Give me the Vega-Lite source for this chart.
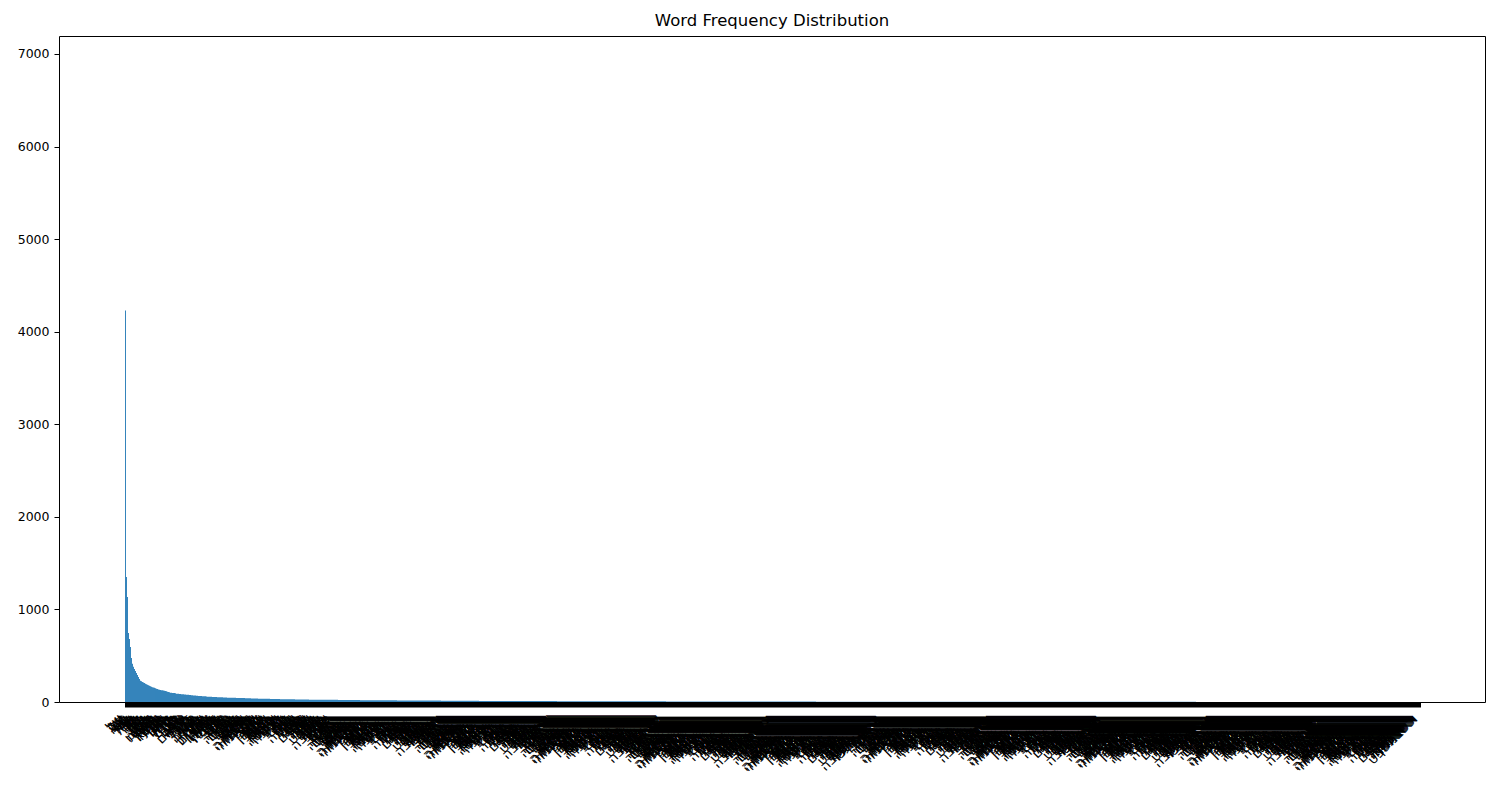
{
  "$schema": "https://vega.github.io/schema/vega-lite/v6.json",
  "autosize": {"type": "none"},
  "width": 1426,
  "height": 666,
  "padding": {"left": 59, "top": 36, "right": 15, "bottom": 98},
  "background": "white",
  "config": {"view": {"stroke": "black", "strokeWidth": 1}, "font": "DejaVu Sans"},
  "title": {"text": "Word Frequency Distribution", "fontSize": 16.5, "fontWeight": "normal", "font": "DejaVu Sans", "color": "black", "offset": 7},
  "data": {"values": [
{"w":"של","c":4230},{"w":"את","c":1350},{"w":"על","c":1134},{"w":"לא","c":745},{"w":"זה","c":680},{"w":"הוא","c":594},{"w":"עם","c":475},{"w":"כי","c":412},{"w":"גם","c":380},{"w":"אני","c":356},
{"w":"היא","c":335},{"w":"יש","c":313},{"w":"מה","c":292},{"w":"אבל","c":270},{"w":"או","c":248},{"w":"כל","c":230},{"w":"אם","c":224},{"w":"היה","c":216},{"w":"רק","c":210},{"w":"אז","c":204},
{"w":"לו","c":197},{"w":"הם","c":192},{"w":"כמו","c":187},{"w":"אין","c":182},{"w":"עוד","c":176},{"w":"היו","c":171},{"w":"בין","c":164},{"w":"אחד","c":160},{"w":"כבר","c":157},{"w":"אנחנו","c":153},
{"w":"שלא","c":149},{"w":"להיות","c":144},{"w":"אותו","c":141},{"w":"אחרי","c":134},{"w":"לפני","c":132},{"w":"מאוד","c":130},{"w":"הזה","c":128},{"w":"יותר","c":126},{"w":"שהוא","c":124},{"w":"עכשיו","c":121},
{"w":"אותה","c":119},{"w":"איך","c":117},{"w":"אחת","c":111},{"w":"שם","c":109},{"w":"פה","c":106},{"w":"כאן","c":101},{"w":"היום","c":99},{"w":"תמיד","c":98},{"w":"אף","c":97},{"w":"אולי","c":96},
{"w":"למה","c":94},{"w":"כך","c":90},{"w":"כן","c":89},{"w":"אתה","c":88},{"w":"אתם","c":87},{"w":"הן","c":86},{"w":"לי","c":85},{"w":"לך","c":84},{"w":"לה","c":83},{"w":"להם","c":82},
{"w":"שלי","c":80},{"w":"שלו","c":79},{"w":"שלה","c":78},{"w":"שלהם","c":77},{"w":"שלנו","c":76},{"w":"אצל","c":75},{"w":"בלי","c":74},{"w":"תחת","c":73},{"w":"מול","c":71},{"w":"דרך","c":70},
{"w":"בגלל","c":69},{"w":"כדי","c":68},{"w":"אשר","c":67},{"w":"זאת","c":66},{"w":"אלה","c":65},{"w":"אלו","c":65},{"w":"הזאת","c":64},{"w":"האלה","c":63},{"w":"מי","c":63},{"w":"מתי","c":62},
{"w":"איפה","c":61},{"w":"כמה","c":60},{"w":"שוב","c":58},{"w":"אחר","c":58},{"w":"אחרת","c":57},{"w":"אחרים","c":57},{"w":"כולם","c":56},{"w":"הכל","c":55},{"w":"שום","c":55},{"w":"דבר","c":54},
{"w":"משהו","c":54},{"w":"מישהו","c":53},{"w":"אפילו","c":52},{"w":"בדיוק","c":52},{"w":"ממש","c":51},{"w":"די","c":51},{"w":"הרבה","c":50},{"w":"קצת","c":50},{"w":"מעט","c":49},
{"w":"בית","c":49},{"w":"עיר","c":48},{"w":"ארץ","c":48},{"w":"ימים","c":47},{"w":"שנה","c":47},{"w":"זמן","c":47},{"w":"איש","c":46},{"w":"אישה","c":46},{"w":"ילד","c":46},{"w":"ילדה","c":45},
{"w":"אב","c":45},{"w":"עבודה","c":45},{"w":"מקום","c":44},{"w":"עולם","c":44},{"w":"חיים","c":44},{"w":"מים","c":43},{"w":"אור","c":43},{"w":"לילה","c":43},{"w":"בוקר","c":42},{"w":"ערב","c":42},
{"w":"שבוע","c":42},{"w":"חודש","c":41},{"w":"ספר","c":41},{"w":"מילה","c":41},{"w":"שפה","c":40},{"w":"מדינה","c":40},{"w":"ממשלה","c":40},{"w":"חברה","c":39},{"w":"משפחה","c":39},{"w":"אהבה","c":39},
{"w":"שלום","c":38},{"w":"מלחמה","c":37},{"w":"צבא","c":37},{"w":"ים","c":37},{"w":"הר","c":36},{"w":"שמש","c":36},{"w":"ירח","c":36},{"w":"כוכב","c":36},{"w":"רחוב","c":35},{"w":"שער","c":35},
{"w":"דלת","c":35},{"w":"חלון","c":35},{"w":"שולחן","c":34},{"w":"כיסא","c":34},{"w":"לחם","c":34},{"w":"אוכל","c":34},{"w":"כסף","c":33},{"w":"שוק","c":33},{"w":"חנות","c":33},{"w":"רכב","c":33},
{"w":"רכבת","c":33},{"w":"מטוס","c":32},{"w":"תלמיד","c":32},{"w":"מורה","c":32},{"w":"כיתה","c":32},{"w":"שאלה","c":32},{"w":"תשובה","c":31},{"w":"סיפור","c":31},{"w":"שיר","c":31},{"w":"סרט","c":31},
{"w":"תמונה","c":31},{"w":"צבע","c":30},{"w":"לב","c":30},{"w":"ראש","c":30},{"w":"יד","c":30},{"w":"רגל","c":30},{"w":"עין","c":29},{"w":"פנים","c":29},{"w":"קול","c":29},{"w":"רוח","c":29},
{"w":"נפש","c":29},{"w":"גוף","c":28},{"w":"דם","c":28},{"w":"אש","c":28},{"w":"אדמה","c":28},{"w":"שדה","c":28},{"w":"עץ","c":27},{"w":"פרח","c":26},{"w":"גן","c":26},{"w":"כלב","c":26},
{"w":"חתול","c":26},{"w":"סוס","c":26},{"w":"ציפור","c":26},{"w":"דג","c":26},{"w":"שמיים","c":26},{"w":"גשם","c":25},{"w":"שלג","c":25},{"w":"חורף","c":25},{"w":"קיץ","c":25},{"w":"חג","c":25},
{"w":"שבת","c":25},{"w":"תורה","c":25},{"w":"מלך","c":25},{"w":"נביא","c":25},{"w":"עבד","c":24},{"w":"חוק","c":24},{"w":"משפט","c":24},{"w":"אמת","c":24},{"w":"כבוד","c":24},{"w":"כוח","c":24},
{"w":"חופש","c":24},{"w":"עתיד","c":24},{"w":"רופא","c":24},{"w":"חלום","c":24},{"w":"רעיון","c":23},{"w":"מחשבה","c":23},{"w":"רגע","c":23},{"w":"שעה","c":23},{"w":"מספר","c":23},{"w":"סוף","c":23},
{"w":"הבית","c":23},{"w":"העיר","c":23},{"w":"הארץ","c":23},{"w":"הימים","c":23},{"w":"השנה","c":22},{"w":"הזמן","c":22},{"w":"האיש","c":22},{"w":"האישה","c":22},{"w":"הילד","c":22},{"w":"הילדה","c":22},
{"w":"האב","c":22},{"w":"העבודה","c":22},{"w":"המקום","c":22},{"w":"העולם","c":22},{"w":"החיים","c":22},{"w":"המים","c":21},{"w":"האור","c":21},{"w":"הלילה","c":21},{"w":"הבוקר","c":21},{"w":"הערב","c":21},
{"w":"השבוע","c":21},{"w":"החודש","c":21},{"w":"הספר","c":21},{"w":"המילה","c":21},{"w":"השפה","c":21},{"w":"המדינה","c":21},{"w":"הממשלה","c":20},{"w":"החברה","c":20},{"w":"המשפחה","c":20},{"w":"האהבה","c":20},
{"w":"השלום","c":20},{"w":"המלחמה","c":20},{"w":"הצבא","c":20},{"w":"הים","c":20},{"w":"ההר","c":20},{"w":"השמש","c":20},{"w":"הירח","c":20},{"w":"הכוכב","c":20},{"w":"הרחוב","c":19},{"w":"השער","c":19},
{"w":"הדלת","c":19},{"w":"החלון","c":19},{"w":"השולחן","c":19},{"w":"הכיסא","c":19},{"w":"הלחם","c":19},{"w":"האוכל","c":19},{"w":"הכסף","c":19},{"w":"השוק","c":19},{"w":"החנות","c":19},{"w":"הרכב","c":19},
{"w":"הרכבת","c":18},{"w":"המטוס","c":18},{"w":"התלמיד","c":18},{"w":"המורה","c":18},{"w":"הכיתה","c":18},{"w":"השאלה","c":18},{"w":"התשובה","c":18},{"w":"הסיפור","c":18},{"w":"השיר","c":18},{"w":"הסרט","c":18},
{"w":"התמונה","c":18},{"w":"הצבע","c":18},{"w":"הלב","c":18},{"w":"הראש","c":17},{"w":"היד","c":17},{"w":"הרגל","c":17},{"w":"העין","c":17},{"w":"הפנים","c":17},{"w":"הקול","c":17},{"w":"הרוח","c":17},
{"w":"הנפש","c":17},{"w":"הגוף","c":17},{"w":"הדם","c":17},{"w":"האש","c":17},{"w":"האדמה","c":17},{"w":"השדה","c":17},{"w":"העץ","c":17},{"w":"הפרח","c":16},{"w":"הגן","c":16},{"w":"הכלב","c":16},
{"w":"החתול","c":16},{"w":"הסוס","c":16},{"w":"הציפור","c":16},{"w":"הדג","c":16},{"w":"השמיים","c":16},{"w":"הגשם","c":16},{"w":"השלג","c":16},{"w":"החורף","c":16},{"w":"הקיץ","c":16},{"w":"החג","c":16},
{"w":"השבת","c":16},{"w":"התורה","c":15},{"w":"המלך","c":15},{"w":"הנביא","c":15},{"w":"העבד","c":15},{"w":"החוק","c":15},{"w":"המשפט","c":15},{"w":"האמת","c":15},{"w":"הכבוד","c":15},{"w":"הכוח","c":15},
{"w":"החופש","c":15},{"w":"העתיד","c":15},{"w":"הרופא","c":15},{"w":"החלום","c":15},{"w":"הרעיון","c":15},{"w":"המחשבה","c":15},{"w":"הרגע","c":15},{"w":"השעה","c":14},{"w":"המספר","c":14},{"w":"הסוף","c":14},
{"w":"והבית","c":14},{"w":"והעיר","c":14},{"w":"והארץ","c":14},{"w":"והימים","c":14},{"w":"והשנה","c":14},{"w":"והזמן","c":14},{"w":"והאיש","c":14},{"w":"והאישה","c":14},{"w":"והילד","c":14},{"w":"והילדה","c":14},
{"w":"והאב","c":14},{"w":"והעבודה","c":14},{"w":"והמקום","c":14},{"w":"והעולם","c":14},{"w":"והחיים","c":14},{"w":"והמים","c":13},{"w":"והאור","c":13},{"w":"והלילה","c":13},{"w":"והבוקר","c":13},{"w":"והערב","c":13},
{"w":"והשבוע","c":13},{"w":"והחודש","c":13},{"w":"והספר","c":13},{"w":"והמילה","c":13},{"w":"והשפה","c":13},{"w":"והמדינה","c":13},{"w":"והממשלה","c":13},{"w":"והחברה","c":13},{"w":"והמשפחה","c":13},{"w":"והאהבה","c":13},
{"w":"והשלום","c":13},{"w":"והמלחמה","c":13},{"w":"והצבא","c":13},{"w":"והים","c":13},{"w":"וההר","c":13},{"w":"והשמש","c":12},{"w":"והירח","c":12},{"w":"והכוכב","c":12},{"w":"והרחוב","c":12},{"w":"והשער","c":12},
{"w":"והדלת","c":12},{"w":"והחלון","c":12},{"w":"והשולחן","c":12},{"w":"והכיסא","c":12},{"w":"והלחם","c":12},{"w":"והאוכל","c":12},{"w":"והכסף","c":12},{"w":"והשוק","c":12},{"w":"והחנות","c":12},{"w":"והרכב","c":12},
{"w":"והרכבת","c":12},{"w":"והמטוס","c":12},{"w":"והתלמיד","c":12},{"w":"והמורה","c":12},{"w":"והכיתה","c":12},{"w":"והשאלה","c":12},{"w":"והתשובה","c":12},{"w":"והסיפור","c":12},{"w":"והשיר","c":11},{"w":"והסרט","c":11},
{"w":"והתמונה","c":11},{"w":"והצבע","c":11},{"w":"והלב","c":11},{"w":"והראש","c":11},{"w":"והיד","c":11},{"w":"והרגל","c":11},{"w":"והעין","c":11},{"w":"והפנים","c":11},{"w":"והקול","c":11},{"w":"והרוח","c":11},
{"w":"והנפש","c":11},{"w":"והגוף","c":11},{"w":"והדם","c":11},{"w":"והאש","c":11},{"w":"והאדמה","c":11},{"w":"והשדה","c":11},{"w":"והעץ","c":11},{"w":"והפרח","c":11},{"w":"והגן","c":11},{"w":"והכלב","c":11},
{"w":"והחתול","c":11},{"w":"והסוס","c":11},{"w":"והציפור","c":11},{"w":"והדג","c":11},{"w":"והשמיים","c":10},{"w":"והגשם","c":10},{"w":"והשלג","c":10},{"w":"והחורף","c":10},{"w":"והקיץ","c":10},{"w":"והחג","c":10},
{"w":"והשבת","c":10},{"w":"והתורה","c":10},{"w":"והמלך","c":10},{"w":"והנביא","c":10},{"w":"והעבד","c":10},{"w":"והחוק","c":10},{"w":"והמשפט","c":10},{"w":"והאמת","c":10},{"w":"והכבוד","c":10},{"w":"והכוח","c":10},
{"w":"והחופש","c":10},{"w":"והעתיד","c":10},{"w":"והרופא","c":10},{"w":"והחלום","c":10},{"w":"והרעיון","c":10},{"w":"והמחשבה","c":10},{"w":"והרגע","c":10},{"w":"והשעה","c":10},{"w":"והמספר","c":10},{"w":"והסוף","c":10},
{"w":"שהבית","c":10},{"w":"שהעיר","c":10},{"w":"שהארץ","c":10},{"w":"שהימים","c":9},{"w":"שהשנה","c":9},{"w":"שהזמן","c":9},{"w":"שהאיש","c":9},{"w":"שהאישה","c":9},{"w":"שהילד","c":9},{"w":"שהילדה","c":9},
{"w":"שהאב","c":9},{"w":"שהעבודה","c":9},{"w":"שהמקום","c":9},{"w":"שהעולם","c":9},{"w":"שהחיים","c":9},{"w":"שהמים","c":9},{"w":"שהאור","c":9},{"w":"שהלילה","c":9},{"w":"שהבוקר","c":9},{"w":"שהערב","c":9},
{"w":"שהשבוע","c":9},{"w":"שהחודש","c":9},{"w":"שהספר","c":9},{"w":"שהמילה","c":9},{"w":"שהשפה","c":9},{"w":"שהמדינה","c":9},{"w":"שהממשלה","c":9},{"w":"שהחברה","c":9},{"w":"שהמשפחה","c":9},{"w":"שהאהבה","c":9},
{"w":"שהשלום","c":9},{"w":"שהמלחמה","c":9},{"w":"שהצבא","c":9},{"w":"שהים","c":9},{"w":"שההר","c":9},{"w":"שהשמש","c":8},{"w":"שהירח","c":8},{"w":"שהכוכב","c":8},{"w":"שהרחוב","c":8},{"w":"שהשער","c":8},
{"w":"שהדלת","c":8},{"w":"שהחלון","c":8},{"w":"שהשולחן","c":8},{"w":"שהכיסא","c":8},{"w":"שהלחם","c":8},{"w":"שהאוכל","c":8},{"w":"שהכסף","c":8},{"w":"שהשוק","c":8},{"w":"שהחנות","c":8},{"w":"שהרכב","c":8},
{"w":"שהרכבת","c":8},{"w":"שהמטוס","c":8},{"w":"שהתלמיד","c":8},{"w":"שהמורה","c":8},{"w":"שהכיתה","c":8},{"w":"שהשאלה","c":8},{"w":"שהתשובה","c":8},{"w":"שהסיפור","c":8},{"w":"שהשיר","c":8},{"w":"שהסרט","c":8},
{"w":"שהתמונה","c":8},{"w":"שהצבע","c":8},{"w":"שהלב","c":8},{"w":"שהראש","c":8},{"w":"שהיד","c":8},{"w":"שהרגל","c":8},{"w":"שהעין","c":8},{"w":"שהפנים","c":8},{"w":"שהקול","c":8},{"w":"שהרוח","c":8},
{"w":"שהנפש","c":8},{"w":"שהגוף","c":7},{"w":"שהדם","c":7},{"w":"שהאש","c":7},{"w":"שהאדמה","c":7},{"w":"שהשדה","c":7},{"w":"שהעץ","c":7},{"w":"שהפרח","c":7},{"w":"שהגן","c":7},{"w":"שהכלב","c":7},
{"w":"שהחתול","c":7},{"w":"שהסוס","c":7},{"w":"שהציפור","c":7},{"w":"שהדג","c":7},{"w":"שהשמיים","c":7},{"w":"שהגשם","c":7},{"w":"שהשלג","c":7},{"w":"שהחורף","c":7},{"w":"שהקיץ","c":7},{"w":"שהחג","c":7},
{"w":"שהשבת","c":7},{"w":"שהתורה","c":7},{"w":"שהמלך","c":7},{"w":"שהנביא","c":7},{"w":"שהעבד","c":7},{"w":"שהחוק","c":7},{"w":"שהמשפט","c":7},{"w":"שהאמת","c":7},{"w":"שהכבוד","c":7},{"w":"שהכוח","c":7},
{"w":"שהחופש","c":7},{"w":"שהעתיד","c":7},{"w":"שהרופא","c":7},{"w":"שהחלום","c":7},{"w":"שהרעיון","c":7},{"w":"שהמחשבה","c":7},{"w":"שהרגע","c":7},{"w":"שהשעה","c":7},{"w":"שהמספר","c":7},{"w":"שהסוף","c":7},
{"w":"כשהבית","c":7},{"w":"כשהעיר","c":7},{"w":"כשהארץ","c":6},{"w":"כשהימים","c":6},{"w":"כשהשנה","c":6},{"w":"כשהזמן","c":6},{"w":"כשהאיש","c":6},{"w":"כשהאישה","c":6},{"w":"כשהילד","c":6},{"w":"כשהילדה","c":6},
{"w":"כשהאב","c":6},{"w":"כשהעבודה","c":6},{"w":"כשהמקום","c":6},{"w":"כשהעולם","c":6},{"w":"כשהחיים","c":6},{"w":"כשהמים","c":6},{"w":"כשהאור","c":6},{"w":"כשהלילה","c":6},{"w":"כשהבוקר","c":6},{"w":"כשהערב","c":6},
{"w":"כשהשבוע","c":6},{"w":"כשהחודש","c":6},{"w":"כשהספר","c":6},{"w":"כשהמילה","c":6},{"w":"כשהשפה","c":6},{"w":"כשהמדינה","c":6},{"w":"כשהממשלה","c":6},{"w":"כשהחברה","c":6},{"w":"כשהמשפחה","c":6},{"w":"כשהאהבה","c":6},
{"w":"כשהשלום","c":6},{"w":"כשהמלחמה","c":6},{"w":"כשהצבא","c":6},{"w":"כשהים","c":6},{"w":"כשההר","c":6},{"w":"כשהשמש","c":6},{"w":"כשהירח","c":6},{"w":"כשהכוכב","c":6},{"w":"כשהרחוב","c":6},{"w":"כשהשער","c":6},
{"w":"כשהדלת","c":6},{"w":"כשהחלון","c":6},{"w":"כשהשולחן","c":6},{"w":"כשהכיסא","c":6},{"w":"כשהלחם","c":6},{"w":"כשהאוכל","c":6},{"w":"כשהכסף","c":6},{"w":"כשהשוק","c":6},{"w":"כשהחנות","c":6},{"w":"כשהרכב","c":6},
{"w":"כשהרכבת","c":6},{"w":"כשהמטוס","c":6},{"w":"כשהתלמיד","c":6},{"w":"כשהמורה","c":6},{"w":"כשהכיתה","c":6},{"w":"כשהשאלה","c":6},{"w":"כשהתשובה","c":6},{"w":"כשהסיפור","c":6},{"w":"כשהשיר","c":6},{"w":"כשהסרט","c":6},
{"w":"כשהתמונה","c":6},{"w":"כשהצבע","c":6},{"w":"כשהלב","c":6},{"w":"כשהראש","c":6},{"w":"כשהיד","c":6},{"w":"כשהרגל","c":6},{"w":"כשהעין","c":6},{"w":"כשהפנים","c":6},{"w":"כשהקול","c":6},{"w":"כשהרוח","c":6},
{"w":"כשהנפש","c":6},{"w":"כשהגוף","c":6},{"w":"כשהדם","c":6},{"w":"כשהאש","c":6},{"w":"כשהאדמה","c":6},{"w":"כשהשדה","c":6},{"w":"כשהעץ","c":6},{"w":"כשהפרח","c":6},{"w":"כשהגן","c":6},{"w":"כשהכלב","c":6},
{"w":"כשהחתול","c":6},{"w":"כשהסוס","c":6},{"w":"כשהציפור","c":5},{"w":"כשהדג","c":5},{"w":"כשהשמיים","c":5},{"w":"כשהגשם","c":5},{"w":"כשהשלג","c":5},{"w":"כשהחורף","c":5},{"w":"כשהקיץ","c":5},{"w":"כשהחג","c":5},
{"w":"כשהשבת","c":5},{"w":"כשהתורה","c":5},{"w":"כשהמלך","c":5},{"w":"כשהנביא","c":5},{"w":"כשהעבד","c":5},{"w":"כשהחוק","c":5},{"w":"כשהמשפט","c":5},{"w":"כשהאמת","c":5},{"w":"כשהכבוד","c":5},{"w":"כשהכוח","c":5},
{"w":"כשהחופש","c":5},{"w":"כשהעתיד","c":5},{"w":"כשהרופא","c":5},{"w":"כשהחלום","c":5},{"w":"כשהרעיון","c":5},{"w":"כשהמחשבה","c":5},{"w":"כשהרגע","c":5},{"w":"כשהשעה","c":5},{"w":"כשהמספר","c":5},{"w":"כשהסוף","c":5},
{"w":"וכשהבית","c":5},{"w":"וכשהעיר","c":5},{"w":"וכשהארץ","c":5},{"w":"וכשהימים","c":5},{"w":"וכשהשנה","c":5},{"w":"וכשהזמן","c":5},{"w":"וכשהאיש","c":5},{"w":"וכשהאישה","c":5},{"w":"וכשהילד","c":5},{"w":"וכשהילדה","c":5},
{"w":"וכשהאב","c":5},{"w":"וכשהעבודה","c":5},{"w":"וכשהמקום","c":5},{"w":"וכשהעולם","c":5},{"w":"וכשהחיים","c":5},{"w":"וכשהמים","c":5},{"w":"וכשהאור","c":5},{"w":"וכשהלילה","c":5},{"w":"וכשהבוקר","c":5},{"w":"וכשהערב","c":5},
{"w":"וכשהשבוע","c":5},{"w":"וכשהחודש","c":5},{"w":"וכשהספר","c":5},{"w":"וכשהמילה","c":5},{"w":"וכשהשפה","c":5},{"w":"וכשהמדינה","c":5},{"w":"וכשהממשלה","c":5},{"w":"וכשהחברה","c":5},{"w":"וכשהמשפחה","c":5},{"w":"וכשהאהבה","c":5},
{"w":"וכשהשלום","c":5},{"w":"וכשהמלחמה","c":5},{"w":"וכשהצבא","c":5},{"w":"וכשהים","c":5},{"w":"וכשההר","c":5},{"w":"וכשהשמש","c":5},{"w":"וכשהירח","c":5},{"w":"וכשהכוכב","c":5},{"w":"וכשהרחוב","c":5},{"w":"וכשהשער","c":5},
{"w":"וכשהדלת","c":5},{"w":"וכשהחלון","c":5},{"w":"וכשהשולחן","c":4},{"w":"וכשהכיסא","c":4},{"w":"וכשהלחם","c":4},{"w":"וכשהאוכל","c":4},{"w":"וכשהכסף","c":4},{"w":"וכשהשוק","c":4},{"w":"וכשהחנות","c":4},{"w":"וכשהרכב","c":4},
{"w":"וכשהרכבת","c":4},{"w":"וכשהמטוס","c":4},{"w":"וכשהתלמיד","c":4},{"w":"וכשהמורה","c":4},{"w":"וכשהכיתה","c":4},{"w":"וכשהשאלה","c":4},{"w":"וכשהתשובה","c":4},{"w":"וכשהסיפור","c":4},{"w":"וכשהשיר","c":4},{"w":"וכשהסרט","c":4},
{"w":"וכשהתמונה","c":4},{"w":"וכשהצבע","c":4},{"w":"וכשהלב","c":4},{"w":"וכשהראש","c":4},{"w":"וכשהיד","c":4},{"w":"וכשהרגל","c":4},{"w":"וכשהעין","c":4},{"w":"וכשהפנים","c":4},{"w":"וכשהקול","c":4},{"w":"וכשהרוח","c":4},
{"w":"וכשהנפש","c":4},{"w":"וכשהגוף","c":4},{"w":"וכשהדם","c":4},{"w":"וכשהאש","c":4},{"w":"וכשהאדמה","c":4},{"w":"וכשהשדה","c":4},{"w":"וכשהעץ","c":4},{"w":"וכשהפרח","c":4},{"w":"וכשהגן","c":4},{"w":"וכשהכלב","c":4},
{"w":"וכשהחתול","c":4},{"w":"וכשהסוס","c":4},{"w":"וכשהציפור","c":4},{"w":"וכשהדג","c":4},{"w":"וכשהשמיים","c":4},{"w":"וכשהגשם","c":4},{"w":"וכשהשלג","c":4},{"w":"וכשהחורף","c":4},{"w":"וכשהקיץ","c":4},{"w":"וכשהחג","c":4},
{"w":"וכשהשבת","c":4},{"w":"וכשהתורה","c":4},{"w":"וכשהמלך","c":4},{"w":"וכשהנביא","c":4},{"w":"וכשהעבד","c":4},{"w":"וכשהחוק","c":4},{"w":"וכשהמשפט","c":4},{"w":"וכשהאמת","c":4},{"w":"וכשהכבוד","c":4},{"w":"וכשהכוח","c":4},
{"w":"וכשהחופש","c":4},{"w":"וכשהעתיד","c":4},{"w":"וכשהרופא","c":4},{"w":"וכשהחלום","c":4},{"w":"וכשהרעיון","c":4},{"w":"וכשהמחשבה","c":4},{"w":"וכשהרגע","c":4},{"w":"וכשהשעה","c":4},{"w":"וכשהמספר","c":4},{"w":"וכשהסוף","c":4},
{"w":"מהבית","c":4},{"w":"מהעיר","c":4},{"w":"מהארץ","c":4},{"w":"מהימים","c":4},{"w":"מהשנה","c":4},{"w":"מהזמן","c":4},{"w":"מהאיש","c":4},{"w":"מהאישה","c":4},{"w":"מהילד","c":4},{"w":"מהילדה","c":4},
{"w":"מהאב","c":4},{"w":"מהעבודה","c":4},{"w":"מהמקום","c":4},{"w":"מהעולם","c":4},{"w":"מהחיים","c":4},{"w":"מהמים","c":4},{"w":"מהאור","c":4},{"w":"מהלילה","c":4},{"w":"מהבוקר","c":4},{"w":"מהערב","c":4},
{"w":"מהשבוע","c":4},{"w":"מהחודש","c":4},{"w":"מהספר","c":3},{"w":"מהמילה","c":3},{"w":"מהשפה","c":3},{"w":"מהמדינה","c":3},{"w":"מהממשלה","c":3},{"w":"מהחברה","c":3},{"w":"מהמשפחה","c":3},{"w":"מהאהבה","c":3},
{"w":"מהשלום","c":3},{"w":"מהמלחמה","c":3},{"w":"מהצבא","c":3},{"w":"מהים","c":3},{"w":"מההר","c":3},{"w":"מהשמש","c":3},{"w":"מהירח","c":3},{"w":"מהכוכב","c":3},{"w":"מהרחוב","c":3},{"w":"מהשער","c":3},
{"w":"מהדלת","c":3},{"w":"מהחלון","c":3},{"w":"מהשולחן","c":3},{"w":"מהכיסא","c":3},{"w":"מהלחם","c":3},{"w":"מהאוכל","c":3},{"w":"מהכסף","c":3},{"w":"מהשוק","c":3},{"w":"מהחנות","c":3},{"w":"מהרכב","c":3},
{"w":"מהרכבת","c":3},{"w":"מהמטוס","c":3},{"w":"מהתלמיד","c":3},{"w":"מהמורה","c":3},{"w":"מהכיתה","c":3},{"w":"מהשאלה","c":3},{"w":"מהתשובה","c":3},{"w":"מהסיפור","c":3},{"w":"מהשיר","c":3},{"w":"מהסרט","c":3},
{"w":"מהתמונה","c":3},{"w":"מהצבע","c":3},{"w":"מהלב","c":3},{"w":"מהראש","c":3},{"w":"מהיד","c":3},{"w":"מהרגל","c":3},{"w":"מהעין","c":3},{"w":"מהפנים","c":3},{"w":"מהקול","c":3},{"w":"מהרוח","c":3},
{"w":"מהנפש","c":3},{"w":"מהגוף","c":3},{"w":"מהדם","c":3},{"w":"מהאש","c":3},{"w":"מהאדמה","c":3},{"w":"מהשדה","c":3},{"w":"מהעץ","c":3},{"w":"מהפרח","c":3},{"w":"מהגן","c":3},{"w":"מהכלב","c":3},
{"w":"מהחתול","c":3},{"w":"מהסוס","c":3},{"w":"מהציפור","c":3},{"w":"מהדג","c":3},{"w":"מהשמיים","c":3},{"w":"מהגשם","c":3},{"w":"מהשלג","c":3},{"w":"מהחורף","c":3},{"w":"מהקיץ","c":3},{"w":"מהחג","c":3},
{"w":"מהשבת","c":3},{"w":"מהתורה","c":3},{"w":"מהמלך","c":3},{"w":"מהנביא","c":3},{"w":"מהעבד","c":3},{"w":"מהחוק","c":3},{"w":"מהמשפט","c":3},{"w":"מהאמת","c":3},{"w":"מהכבוד","c":3},{"w":"מהכוח","c":3},
{"w":"מהחופש","c":3},{"w":"מהעתיד","c":3},{"w":"מהרופא","c":3},{"w":"מהחלום","c":3},{"w":"מהרעיון","c":3},{"w":"מהמחשבה","c":3},{"w":"מהרגע","c":3},{"w":"מהשעה","c":3},{"w":"מהמספר","c":3},{"w":"מהסוף","c":3},
{"w":"ומהבית","c":3},{"w":"ומהעיר","c":3},{"w":"ומהארץ","c":3},{"w":"ומהימים","c":3},{"w":"ומהשנה","c":3},{"w":"ומהזמן","c":3},{"w":"ומהאיש","c":3},{"w":"ומהאישה","c":3},{"w":"ומהילד","c":3},{"w":"ומהילדה","c":3},
{"w":"ומהאב","c":3},{"w":"ומהעבודה","c":3},{"w":"ומהמקום","c":3},{"w":"ומהעולם","c":3},{"w":"ומהחיים","c":3},{"w":"ומהמים","c":3},{"w":"ומהאור","c":3},{"w":"ומהלילה","c":3},{"w":"ומהבוקר","c":3},{"w":"ומהערב","c":3},
{"w":"ומהשבוע","c":3},{"w":"ומהחודש","c":3},{"w":"ומהספר","c":3},{"w":"ומהמילה","c":3},{"w":"ומהשפה","c":3},{"w":"ומהמדינה","c":3},{"w":"ומהממשלה","c":3},{"w":"ומהחברה","c":3},{"w":"ומהמשפחה","c":3},{"w":"ומהאהבה","c":3},
{"w":"ומהשלום","c":3},{"w":"ומהמלחמה","c":3},{"w":"ומהצבא","c":2},{"w":"ומהים","c":2},{"w":"ומההר","c":2},{"w":"ומהשמש","c":2},{"w":"ומהירח","c":2},{"w":"ומהכוכב","c":2},{"w":"ומהרחוב","c":2},{"w":"ומהשער","c":2},
{"w":"ומהדלת","c":2},{"w":"ומהחלון","c":2},{"w":"ומהשולחן","c":2},{"w":"ומהכיסא","c":2},{"w":"ומהלחם","c":2},{"w":"ומהאוכל","c":2},{"w":"ומהכסף","c":2},{"w":"ומהשוק","c":2},{"w":"ומהחנות","c":2},{"w":"ומהרכב","c":2},
{"w":"ומהרכבת","c":2},{"w":"ומהמטוס","c":2},{"w":"ומהתלמיד","c":2},{"w":"ומהמורה","c":2},{"w":"ומהכיתה","c":2},{"w":"ומהשאלה","c":2},{"w":"ומהתשובה","c":2},{"w":"ומהסיפור","c":2},{"w":"ומהשיר","c":2},{"w":"ומהסרט","c":2},
{"w":"ומהתמונה","c":2},{"w":"ומהצבע","c":2},{"w":"ומהלב","c":2},{"w":"ומהראש","c":2},{"w":"ומהיד","c":2},{"w":"ומהרגל","c":2},{"w":"ומהעין","c":2},{"w":"ומהפנים","c":2},{"w":"ומהקול","c":2},{"w":"ומהרוח","c":2},
{"w":"ומהנפש","c":2},{"w":"ומהגוף","c":2},{"w":"ומהדם","c":2},{"w":"ומהאש","c":2},{"w":"ומהאדמה","c":2},{"w":"ומהשדה","c":2},{"w":"ומהעץ","c":2},{"w":"ומהפרח","c":2},{"w":"ומהגן","c":2},{"w":"ומהכלב","c":2},
{"w":"ומהחתול","c":2},{"w":"ומהסוס","c":2},{"w":"ומהציפור","c":2},{"w":"ומהדג","c":2},{"w":"ומהשמיים","c":2},{"w":"ומהגשם","c":2},{"w":"ומהשלג","c":2},{"w":"ומהחורף","c":2},{"w":"ומהקיץ","c":2},{"w":"ומהחג","c":2},
{"w":"ומהשבת","c":2},{"w":"ומהתורה","c":2},{"w":"ומהמלך","c":2},{"w":"ומהנביא","c":2},{"w":"ומהעבד","c":2},{"w":"ומהחוק","c":2},{"w":"ומהמשפט","c":2},{"w":"ומהאמת","c":2},{"w":"ומהכבוד","c":2},{"w":"ומהכוח","c":2},
{"w":"ומהחופש","c":2},{"w":"ומהעתיד","c":2},{"w":"ומהרופא","c":2},{"w":"ומהחלום","c":2},{"w":"ומהרעיון","c":2},{"w":"ומהמחשבה","c":2},{"w":"ומהרגע","c":2},{"w":"ומהשעה","c":2},{"w":"ומהמספר","c":2},{"w":"ומהסוף","c":2},
{"w":"כשבבית","c":2},{"w":"כשבעיר","c":2},{"w":"כשבארץ","c":2},{"w":"כשבימים","c":2},{"w":"כשבשנה","c":2},{"w":"כשבזמן","c":2},{"w":"כשבאיש","c":2},{"w":"כשבאישה","c":2},{"w":"כשבילד","c":2},{"w":"כשבילדה","c":2},
{"w":"כשבאב","c":2},{"w":"כשבעבודה","c":2},{"w":"כשבמקום","c":2},{"w":"כשבעולם","c":2},{"w":"כשבחיים","c":2},{"w":"כשבמים","c":2},{"w":"כשבאור","c":2},{"w":"כשבלילה","c":2},{"w":"כשבבוקר","c":2},{"w":"כשבערב","c":2},
{"w":"כשבשבוע","c":2},{"w":"כשבחודש","c":2},{"w":"כשבספר","c":2},{"w":"כשבמילה","c":2},{"w":"כשבשפה","c":2},{"w":"כשבמדינה","c":2},{"w":"כשבממשלה","c":2},{"w":"כשבחברה","c":2},{"w":"כשבמשפחה","c":2},{"w":"כשבאהבה","c":2},
{"w":"כשבשלום","c":2},{"w":"כשבמלחמה","c":2},{"w":"כשבצבא","c":2},{"w":"כשבים","c":2},{"w":"כשבהר","c":2},{"w":"כשבשמש","c":2},{"w":"כשבירח","c":2},{"w":"כשבכוכב","c":2},{"w":"כשברחוב","c":2},{"w":"כשבשער","c":2},
{"w":"כשבדלת","c":2},{"w":"כשבחלון","c":2},{"w":"כשבשולחן","c":2},{"w":"כשבכיסא","c":2},{"w":"כשבלחם","c":2},{"w":"כשבאוכל","c":2},{"w":"כשבכסף","c":2},{"w":"כשבשוק","c":2},{"w":"כשבחנות","c":2},{"w":"כשברכב","c":2},
{"w":"כשברכבת","c":2},{"w":"כשבמטוס","c":2},{"w":"כשבתלמיד","c":2},{"w":"כשבמורה","c":2},{"w":"כשבכיתה","c":2},{"w":"כשבשאלה","c":2},{"w":"כשבתשובה","c":2},{"w":"כשבסיפור","c":2},{"w":"כשבשיר","c":2},{"w":"כשבסרט","c":2},
{"w":"כשבתמונה","c":2},{"w":"כשבצבע","c":2},{"w":"כשבלב","c":2},{"w":"כשבראש","c":2},{"w":"כשביד","c":2},{"w":"כשברגל","c":2},{"w":"כשבעין","c":2},{"w":"כשבפנים","c":2},{"w":"כשבקול","c":2},{"w":"כשברוח","c":2},
{"w":"כשבנפש","c":2},{"w":"כשבגוף","c":2},{"w":"כשבדם","c":2},{"w":"כשבאש","c":2},{"w":"כשבאדמה","c":2},{"w":"כשבשדה","c":2},{"w":"כשבעץ","c":2},{"w":"כשבפרח","c":2},{"w":"כשבגן","c":2},{"w":"כשבכלב","c":2},
{"w":"כשבחתול","c":2},{"w":"כשבסוס","c":2},{"w":"כשבציפור","c":2},{"w":"כשבדג","c":2},{"w":"כשבשמיים","c":2},{"w":"כשבגשם","c":2},{"w":"כשבשלג","c":2},{"w":"כשבחורף","c":2},{"w":"כשבקיץ","c":2},{"w":"כשבחג","c":2},
{"w":"כשבשבת","c":2},{"w":"כשבתורה","c":2},{"w":"כשבמלך","c":1},{"w":"כשבנביא","c":1},{"w":"כשבעבד","c":1},{"w":"כשבחוק","c":1},{"w":"כשבמשפט","c":1},{"w":"כשבאמת","c":1},{"w":"כשבכבוד","c":1},{"w":"כשבכוח","c":1},
{"w":"כשבחופש","c":1},{"w":"כשבעתיד","c":1},{"w":"כשברופא","c":1},{"w":"כשבחלום","c":1},{"w":"כשברעיון","c":1},{"w":"כשבמחשבה","c":1},{"w":"כשברגע","c":1},{"w":"כשבשעה","c":1},{"w":"כשבמספר","c":1},{"w":"כשבסוף","c":1},
{"w":"ושהבית","c":1},{"w":"ושהעיר","c":1},{"w":"ושהארץ","c":1},{"w":"ושהימים","c":1},{"w":"ושהשנה","c":1},{"w":"ושהזמן","c":1},{"w":"ושהאיש","c":1},{"w":"ושהאישה","c":1},{"w":"ושהילד","c":1},{"w":"ושהילדה","c":1},
{"w":"ושהאב","c":1},{"w":"ושהעבודה","c":1},{"w":"ושהמקום","c":1},{"w":"ושהעולם","c":1},{"w":"ושהחיים","c":1},{"w":"ושהמים","c":1},{"w":"ושהאור","c":1},{"w":"ושהלילה","c":1},{"w":"ושהבוקר","c":1},{"w":"ושהערב","c":1},
{"w":"ושהשבוע","c":1},{"w":"ושהחודש","c":1},{"w":"ושהספר","c":1},{"w":"ושהמילה","c":1},{"w":"ושהשפה","c":1},{"w":"ושהמדינה","c":1},{"w":"ושהממשלה","c":1},{"w":"ושהחברה","c":1},{"w":"ושהמשפחה","c":1},{"w":"ושהאהבה","c":1},
{"w":"ושהשלום","c":1},{"w":"ושהמלחמה","c":1},{"w":"ושהצבא","c":1},{"w":"ושהים","c":1},{"w":"ושההר","c":1},{"w":"ושהשמש","c":1},{"w":"ושהירח","c":1},{"w":"ושהכוכב","c":1},{"w":"ושהרחוב","c":1},{"w":"ושהשער","c":1},
{"w":"ושהדלת","c":1},{"w":"ושהחלון","c":1},{"w":"ושהשולחן","c":1},{"w":"ושהכיסא","c":1},{"w":"ושהלחם","c":1},{"w":"ושהאוכל","c":1},{"w":"ושהכסף","c":1},{"w":"ושהשוק","c":1},{"w":"ושהחנות","c":1},{"w":"ושהרכב","c":1},
{"w":"ושהרכבת","c":1},{"w":"ושהמטוס","c":1},{"w":"ושהתלמיד","c":1},{"w":"ושהמורה","c":1},{"w":"ושהכיתה","c":1},{"w":"ושהשאלה","c":1},{"w":"ושהתשובה","c":1},{"w":"ושהסיפור","c":1},{"w":"ושהשיר","c":1},{"w":"ושהסרט","c":1},
{"w":"ושהתמונה","c":1},{"w":"ושהצבע","c":1},{"w":"ושהלב","c":1},{"w":"ושהראש","c":1},{"w":"ושהיד","c":1},{"w":"ושהרגל","c":1},{"w":"ושהעין","c":1},{"w":"ושהפנים","c":1},{"w":"ושהקול","c":1},{"w":"ושהרוח","c":1},
{"w":"ושהנפש","c":1},{"w":"ושהגוף","c":1},{"w":"ושהדם","c":1},{"w":"ושהאש","c":1},{"w":"ושהאדמה","c":1},{"w":"ושהשדה","c":1},{"w":"ושהעץ","c":1},{"w":"ושהפרח","c":1},{"w":"ושהגן","c":1},{"w":"ושהכלב","c":1},
{"w":"ושהחתול","c":1},{"w":"ושהסוס","c":1},{"w":"ושהציפור","c":1},{"w":"ושהדג","c":1},{"w":"ושהשמיים","c":1},{"w":"ושהגשם","c":1},{"w":"ושהשלג","c":1},{"w":"ושהחורף","c":1},{"w":"ושהקיץ","c":1},{"w":"ושהחג","c":1},
{"w":"ושהשבת","c":1},{"w":"ושהתורה","c":1},{"w":"ושהמלך","c":1},{"w":"ושהנביא","c":1},{"w":"ושהעבד","c":1},{"w":"ושהחוק","c":1},{"w":"ושהמשפט","c":1},{"w":"ושהאמת","c":1},{"w":"ושהכבוד","c":1},{"w":"ושהכוח","c":1},
{"w":"ושהחופש","c":1},{"w":"ושהעתיד","c":1},{"w":"ושהרופא","c":1},{"w":"ושהחלום","c":1},{"w":"ושהרעיון","c":1},{"w":"ושהמחשבה","c":1},{"w":"ושהרגע","c":1},{"w":"ושהשעה","c":1},{"w":"ושהמספר","c":1},{"w":"ושהסוף","c":1},
{"w":"וכשבבית","c":1},{"w":"וכשבעיר","c":1},{"w":"וכשבארץ","c":1},{"w":"וכשבימים","c":1},{"w":"וכשבשנה","c":1},{"w":"וכשבזמן","c":1},{"w":"וכשבאיש","c":1},{"w":"וכשבאישה","c":1},{"w":"וכשבילד","c":1},{"w":"וכשבילדה","c":1},
{"w":"וכשבאב","c":1},{"w":"וכשבעבודה","c":1},{"w":"וכשבמקום","c":1},{"w":"וכשבעולם","c":1},{"w":"וכשבחיים","c":1},{"w":"וכשבמים","c":1},{"w":"וכשבאור","c":1},{"w":"וכשבלילה","c":1},{"w":"וכשבבוקר","c":1},{"w":"וכשבערב","c":1},
{"w":"וכשבשבוע","c":1},{"w":"וכשבחודש","c":1},{"w":"וכשבספר","c":1},{"w":"וכשבמילה","c":1},{"w":"וכשבשפה","c":1},{"w":"וכשבמדינה","c":1},{"w":"וכשבממשלה","c":1},{"w":"וכשבחברה","c":1},{"w":"וכשבמשפחה","c":1},{"w":"וכשבאהבה","c":1},
{"w":"וכשבשלום","c":1},{"w":"וכשבמלחמה","c":1},{"w":"וכשבצבא","c":1},{"w":"וכשבים","c":1},{"w":"וכשבהר","c":1},{"w":"וכשבשמש","c":1},{"w":"וכשבירח","c":1},{"w":"וכשבכוכב","c":1},{"w":"וכשברחוב","c":1},{"w":"וכשבשער","c":1},
{"w":"וכשבדלת","c":1},{"w":"וכשבחלון","c":1},{"w":"וכשבשולחן","c":1},{"w":"וכשבכיסא","c":1},{"w":"וכשבלחם","c":1},{"w":"וכשבאוכל","c":1},{"w":"וכשבכסף","c":1},{"w":"וכשבשוק","c":1},{"w":"וכשבחנות","c":1},{"w":"וכשברכב","c":1},
{"w":"וכשברכבת","c":1},{"w":"וכשבמטוס","c":1},{"w":"וכשבתלמיד","c":1},{"w":"וכשבמורה","c":1},{"w":"וכשבכיתה","c":1},{"w":"וכשבשאלה","c":1},{"w":"וכשבתשובה","c":1},{"w":"וכשבסיפור","c":1},{"w":"וכשבשיר","c":1},{"w":"וכשבסרט","c":1},
{"w":"וכשבתמונה","c":1},{"w":"וכשבצבע","c":1},{"w":"וכשבלב","c":1},{"w":"וכשבראש","c":1},{"w":"וכשביד","c":1},{"w":"וכשברגל","c":1},{"w":"וכשבעין","c":1},{"w":"וכשבפנים","c":1},{"w":"וכשבקול","c":1},{"w":"וכשברוח","c":1},
{"w":"וכשבנפש","c":1},{"w":"וכשבגוף","c":1},{"w":"וכשבדם","c":1},{"w":"וכשבאש","c":1},{"w":"וכשבאדמה","c":1},{"w":"וכשבשדה","c":1},{"w":"וכשבעץ","c":1},{"w":"וכשבפרח","c":1},{"w":"וכשבגן","c":1},{"w":"וכשבכלב","c":1},
{"w":"וכשבחתול","c":1},{"w":"וכשבסוס","c":1},{"w":"וכשבציפור","c":1},{"w":"וכשבדג","c":1},{"w":"וכשבשמיים","c":1},{"w":"וכשבגשם","c":1},{"w":"וכשבשלג","c":1},{"w":"וכשבחורף","c":1},{"w":"וכשבקיץ","c":1},{"w":"וכשבחג","c":1},
{"w":"וכשבשבת","c":1},{"w":"וכשבתורה","c":1},{"w":"וכשבמלך","c":1},{"w":"וכשבנביא","c":1},{"w":"וכשבעבד","c":1},{"w":"וכשבחוק","c":1},{"w":"וכשבמשפט","c":1}
  ]},
  "mark": {"type": "bar", "color": "#1f77b4"},
  "encoding": {
    "x": {
      "field": "w", "type": "nominal", "sort": null,
      "scale": {"range": [66, 1362], "paddingInner": 0.1, "paddingOuter": 0},
      "axis": {"title": null, "domain": false, "grid": false, "labelAngle": -45, "labelAlign": "right", "labelBaseline": "middle", "labelOffset": -5, "labelPadding": 9.5, "labelFontSize": 13.5, "labelFont": "DejaVu Sans", "labelColor": "black", "tickColor": "black", "tickSize": 5, "tickWidth": 1, "labelOverlap": false}
    },
    "y": {
      "field": "c", "type": "quantitative",
      "scale": {"domain": [0, 7194], "nice": false, "zero": true},
      "axis": {"title": null, "domain": false, "grid": false, "values": [0, 1000, 2000, 3000, 4000, 5000, 6000, 7000], "format": "d", "labelFontSize": 12.5, "labelFont": "DejaVu Sans", "labelColor": "black", "tickColor": "black", "tickSize": 5, "tickWidth": 1, "labelPadding": 5}
    }
  }
}
